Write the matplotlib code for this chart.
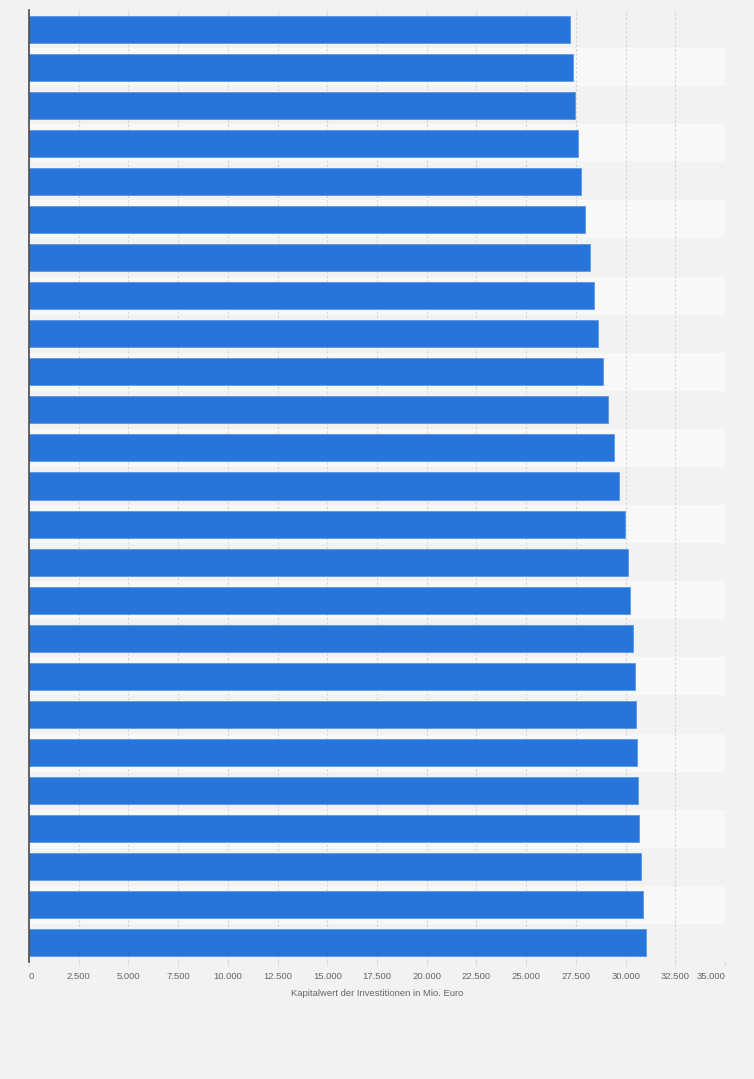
import matplotlib.pyplot as plt
import numpy as np
from matplotlib.ticker import FuncFormatter

plt.rcParams["font.family"] = ["Liberation Sans", "DejaVu Sans"]

# Kapitalwert der Investitionen in Mio. Euro, one bar per row (top to bottom)
rows = list(range(1, 26))
values = [27230, 27380, 27480, 27600, 27750, 27950, 28200, 28400, 28590,
          28850, 29110, 29410, 29690, 29960, 30100, 30210, 30360, 30460,
          30510, 30560, 30600, 30660, 30760, 30860, 31050]
xticks = np.arange(0, 35001, 2500)

bg = "#f2f2f2"
fig = plt.figure(figsize=(7.54, 10.79), dpi=100, facecolor=bg)
ax = fig.add_axes([29 / 754, 1 - 962 / 1079, 696 / 754, 952 / 1079])
ax.set_facecolor(bg)

y = np.arange(len(rows))

# alternating row bands
for i in y:
    ax.axhspan(i - 0.5, i + 0.5, color=bg if i % 2 == 0 else "#f8f8f8",
               lw=0, zorder=0)

ax.barh(y, values, height=0.71, color="#2775da", edgecolor="#5b96e4",
        linewidth=0.6, zorder=3)

ax.set_xlim(0, 35000)
ax.set_ylim(len(rows) - 0.5, -0.5)
ax.set_xticks(xticks)
ax.xaxis.set_major_formatter(
    FuncFormatter(lambda v, p: f"{int(v):,}".replace(",", ".")))
ax.set_yticks([])
ax.grid(axis="x", color="#d4d4d4", linestyle=(0, (2, 2)), linewidth=0.8,
        zorder=1)

for s in ["top", "right", "bottom"]:
    ax.spines[s].set_visible(False)
ax.spines["left"].set_color("#4a4a4a")
ax.spines["left"].set_linewidth(1.2)
ax.spines["left"].set_zorder(4)

ax.tick_params(axis="x", length=3, color="#dddddd", labelsize=6.8,
               labelcolor="#666666", pad=4)
labels = ax.get_xticklabels()
labels[0].set_horizontalalignment("left")
labels[-1].set_horizontalalignment("right")

ax.set_xlabel("Kapitalwert der Investitionen in Mio. Euro", fontsize=6.8,
              color="#666666", labelpad=6)

fig.savefig("out.png", dpi=100, facecolor=bg)
